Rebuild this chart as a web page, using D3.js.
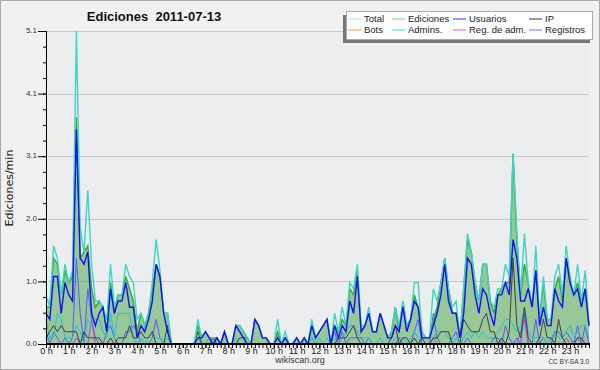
<!DOCTYPE html>
<html>
<head>
<meta charset="utf-8">
<script src="https://cdn.jsdelivr.net/npm/d3@7/dist/d3.min.js"></script>
<style>
  body { margin: 0; background: #f1f1f1; }
  svg { display: block; }
</style>
</head>
<body>
<div id="chart"></div>
<script>
// Edits per minute, one value per 10-minute slot (144 slots)
const total = [
  0.8, 0.6, 1.6, 1.4, 0.8, 1.3, 1.0, 1.2, 5.1, 1.9, 1.5, 2.5,
  1.3, 0.7, 0.7, 0.6, 0.4, 1.3, 0.6, 0.8, 0.8, 1.3, 1.1, 1.0,
  0.4, 0.5, 0.3, 0.5, 1.0, 1.7, 1.2, 0.5, 0.5, 0, 0, 0,
  0, 0, 0, 0, 0.4, 0.1, 0.2, 0.1, 0.1, 0.1, 0, 0.2,
  0, 0, 0.3, 0.3, 0.2, 0.1, 0, 0.4, 0.3, 0.1, 0.1, 0,
  0, 0.4, 0, 0.2, 0, 0, 0.1, 0, 0.1, 0, 0.4, 0.1,
  0.2, 0.3, 0.4, 0, 0.5, 0.2, 0.6, 0.3, 1.0, 0.9, 1.3, 0.3,
  0.3, 0.6, 0.2, 0.2, 0.5, 0.3, 0.1, 0.2, 0.6, 0.3, 0.7, 0.3,
  0.4, 1.0, 1.0, 0.2, 0.1, 0.1, 0.9, 0.7, 1.0, 1.4, 0.9, 0.6,
  0.7, 0.1, 0.9, 1.8, 1.5, 1.0, 0.7, 1.3, 1.3, 0.7, 0.6, 0.9,
  0.9, 1.3, 1.1, 3.1, 1.8, 0.8, 1.8, 1.0, 0.6, 1.6, 0.4, 1.1,
  0.4, 0.4, 1.1, 1.3, 0.8, 1.6, 1.1, 0.8, 1.3, 0.7, 1.2, 0.3
];
const ediciones = [
  0.6, 0.6, 1.4, 1.3, 0.8, 1.2, 1.0, 1.1, 3.7, 1.4, 1.5, 1.6,
  0.9, 0.6, 0.7, 0.6, 0.2, 1.0, 0.5, 0.8, 0.8, 1.1, 0.9, 0.7,
  0.2, 0.5, 0.3, 0.5, 0.9, 1.3, 1.1, 0.5, 0.5, 0, 0, 0,
  0, 0, 0, 0, 0.3, 0.1, 0.2, 0.1, 0.1, 0.1, 0, 0.2,
  0, 0, 0.3, 0.3, 0.2, 0.1, 0, 0.4, 0.3, 0.1, 0.1, 0,
  0, 0.2, 0, 0.1, 0, 0, 0.1, 0, 0.1, 0, 0.3, 0.1,
  0.2, 0.3, 0.4, 0, 0.3, 0.2, 0.4, 0.3, 0.9, 0.8, 1.2, 0.2,
  0.3, 0.5, 0.2, 0.2, 0.5, 0.3, 0.1, 0.2, 0.6, 0.2, 0.7, 0.3,
  0.4, 0.8, 0.6, 0.2, 0.1, 0.1, 0.4, 0.6, 1.0, 1.4, 0.9, 0.5,
  0.5, 0.1, 0.9, 1.7, 1.5, 1.0, 0.7, 1.3, 1.3, 0.7, 0.5, 0.8,
  0.9, 1.0, 1.0, 3.1, 1.7, 0.8, 1.3, 1.0, 0.6, 1.2, 0.4, 1.0,
  0.4, 0.4, 0.9, 1.1, 0.7, 1.4, 1.0, 0.8, 1.0, 0.7, 0.9, 0.3
];
const usuarios = [
  0.5, 0.4, 1.1, 1.1, 0.5, 1.0, 0.8, 0.7, 3.5, 1.4, 1.3, 1.5,
  0.5, 0.3, 0.5, 0.6, 0.2, 0.9, 0.5, 0.7, 0.7, 1.0, 0.6, 0.6,
  0.1, 0.3, 0.2, 0.4, 0.7, 1.3, 1.1, 0.5, 0.2, 0, 0, 0,
  0, 0, 0, 0, 0.1, 0.1, 0.2, 0.1, 0, 0.1, 0, 0.2,
  0, 0, 0.3, 0.2, 0.1, 0, 0, 0.4, 0.3, 0.1, 0.1, 0,
  0, 0.1, 0, 0.1, 0, 0, 0.1, 0, 0.1, 0, 0.3, 0.1,
  0.2, 0.3, 0.4, 0, 0.3, 0.1, 0.3, 0.2, 0.7, 0.5, 1.1, 0.2,
  0.3, 0.5, 0.2, 0.2, 0.5, 0.3, 0.1, 0.1, 0.3, 0.2, 0.6, 0.2,
  0.4, 0.7, 0.6, 0.1, 0.1, 0.1, 0.3, 0.5, 0.8, 1.3, 0.7, 0.5,
  0.5, 0.1, 0.5, 1.4, 1.3, 0.8, 0.5, 0.9, 0.8, 0.5, 0.3, 0.8,
  0.8, 1.0, 0.8, 1.7, 1.4, 0.7, 0.7, 0.9, 0.6, 1.2, 0.3, 0.6,
  0.3, 0.3, 0.9, 0.7, 0.6, 1.4, 1.0, 0.8, 0.9, 0.6, 0.9, 0.3
];
const ip = [
  0.1, 0.2, 0.3, 0.2, 0.3, 0.2, 0.2, 0.2, 0.2, 0, 0.2, 0.1,
  0.1, 0.1, 0.1, 0, 0, 0.1, 0, 0.1, 0.1, 0.1, 0.3, 0.1,
  0.1, 0.2, 0.1, 0.1, 0.2, 0, 0, 0, 0.3, 0, 0, 0,
  0, 0, 0, 0, 0.2, 0, 0, 0, 0.1, 0, 0, 0,
  0, 0, 0, 0.1, 0.1, 0.1, 0, 0, 0, 0, 0, 0,
  0, 0.1, 0, 0, 0, 0, 0, 0, 0, 0, 0, 0,
  0, 0, 0, 0, 0, 0.1, 0.1, 0.1, 0.2, 0.3, 0.1, 0,
  0, 0, 0, 0, 0, 0, 0, 0.1, 0.3, 0, 0.1, 0.1,
  0, 0.1, 0, 0.1, 0, 0, 0.1, 0.1, 0.2, 0.2, 0.2, 0,
  0, 0, 0.4, 0.3, 0.2, 0.2, 0.2, 0.4, 0.5, 0.2, 0.2, 0,
  0.1, 0, 0.2, 1.4, 0.3, 0.1, 0.6, 0.1, 0, 0, 0.1, 0.4,
  0.1, 0.1, 0, 0.4, 0.1, 0, 0, 0, 0.1, 0.1, 0, 0
];
const bots = [
  0, 0, 0, 0, 0, 0, 0, 0, 0, 0, 0, 0,
  0, 0, 0, 0, 0, 0, 0, 0, 0, 0, 0, 0,
  0, 0, 0, 0, 0, 0, 0, 0, 0, 0, 0, 0,
  0, 0, 0, 0, 0, 0, 0, 0, 0, 0, 0, 0,
  0, 0, 0, 0, 0, 0, 0, 0, 0, 0, 0, 0,
  0, 0, 0, 0, 0, 0, 0, 0, 0, 0, 0, 0,
  0, 0, 0, 0, 0, 0, 0, 0, 0, 0, 0, 0,
  0, 0, 0, 0, 0, 0, 0, 0, 0, 0, 0, 0,
  0, 0, 0, 0, 0, 0, 0, 0, 0, 0, 0, 0,
  0, 0, 0, 0, 0, 0, 0, 0, 0, 0, 0, 0,
  0, 0, 0, 0, 0, 0, 0, 0, 0, 0, 0, 0,
  0, 0, 0, 0, 0, 0, 0, 0, 0, 0, 0, 0
];
const admins = [
  0.4, 0.1, 0.1, 0.5, 0.4, 0.1, 0.1, 0.1, 0.3, 0.2, 0, 0.4,
  0.3, 0.4, 0.4, 0.2, 0.1, 0.5, 0.1, 0.5, 0.5, 0.5, 0.5, 0.1,
  0, 0.1, 0, 0.1, 0.2, 0.1, 0.1, 0, 0.1, 0, 0, 0,
  0, 0, 0, 0, 0.1, 0, 0, 0.1, 0, 0, 0, 0,
  0, 0, 0.1, 0, 0, 0.1, 0, 0, 0, 0, 0, 0,
  0, 0, 0, 0, 0, 0, 0, 0, 0, 0, 0.1, 0,
  0.1, 0, 0.1, 0, 0.1, 0, 0.1, 0.2, 0.3, 0.3, 0.2, 0.1,
  0.1, 0.1, 0, 0, 0.1, 0, 0, 0, 0.1, 0.1, 0.1, 0,
  0.1, 0.2, 0.1, 0, 0, 0, 0.1, 0.2, 0.2, 0.2, 0.1, 0,
  0.1, 0, 0.1, 0.2, 0.1, 0.2, 0.1, 0.2, 0.1, 0.1, 0.1, 0.2,
  0.3, 0.4, 0.4, 0.3, 0.2, 0.3, 0.6, 0.2, 0.1, 0.1, 0.1, 0.1,
  0, 0.1, 0.2, 0.1, 0.1, 0.2, 0.3, 0.1, 0.2, 0.3, 0.3, 0.1
];
const regAdm = [
  0, 0, 0, 0, 0, 0, 0, 0, 0.1, 0, 0, 0,
  0.4, 0, 0, 0, 0, 0, 0, 0, 0, 0, 0, 0,
  0, 0, 0, 0, 0, 0, 0, 0, 0, 0, 0, 0,
  0, 0, 0, 0, 0, 0, 0, 0, 0, 0, 0, 0,
  0, 0, 0, 0, 0, 0, 0, 0, 0, 0, 0, 0,
  0, 0, 0, 0, 0, 0, 0, 0, 0, 0, 0, 0,
  0, 0, 0, 0, 0, 0, 0, 0, 0, 0, 0, 0,
  0, 0, 0, 0, 0, 0, 0, 0, 0, 0, 0, 0,
  0, 0, 0, 0, 0, 0, 0.1, 0, 0, 0, 0, 0,
  0, 0, 0, 0, 0, 0, 0, 0, 0, 0, 0, 0,
  0, 0, 0, 0, 0, 0.2, 0.4, 0, 0, 0, 0, 0,
  0, 0, 0, 0, 0, 0.1, 0, 0, 0.1, 0, 0, 0
];
const registros = [
  0.2, 0, 0.2, 0.1, 0, 0.1, 0, 0.1, 1.4, 0.5, 0, 0.9,
  0.4, 0.1, 0, 0, 0.2, 0.3, 0.1, 0, 0, 0.2, 0.2, 0.3,
  0.2, 0, 0, 0, 0.1, 0.4, 0.1, 0, 0, 0, 0, 0,
  0, 0, 0, 0, 0.1, 0, 0, 0, 0, 0, 0, 0,
  0, 0, 0, 0, 0, 0, 0, 0, 0, 0, 0, 0,
  0, 0.2, 0, 0.1, 0, 0, 0, 0, 0, 0, 0.1, 0,
  0, 0, 0, 0, 0.2, 0, 0.2, 0, 0.1, 0.1, 0.1, 0.1,
  0, 0.1, 0, 0, 0, 0, 0, 0, 0, 0.1, 0, 0,
  0, 0.2, 0.4, 0, 0, 0, 0.5, 0.1, 0, 0, 0, 0.1,
  0.2, 0, 0, 0.1, 0, 0, 0, 0, 0, 0, 0.1, 0.1,
  0, 0.3, 0.1, 0, 0.1, 0, 0.5, 0, 0, 0.4, 0, 0.1,
  0, 0, 0.2, 0.2, 0.1, 0.2, 0.1, 0, 0.3, 0, 0.3, 0
];

const hourLabels = ["0 h", "1 h", "2 h", "3 h", "4 h", "5 h", "6 h", "7 h", "8 h", "9 h", "10 h", "11 h",
  "12 h", "13 h", "14 h", "15 h", "16 h", "17 h", "18 h", "19 h", "20 h", "21 h", "22 h", "23 h"];
const yMax = 5.1;
const yMajor = [0, 1.02, 2.04, 3.06, 4.08, 5.1];

const width = 600, height = 370;
const margin = { left: 46, right: 11, top: 31, bottom: 26 };

const svg = d3.select("#chart").append("svg")
  .attr("width", width)
  .attr("height", height);

// background and frame
svg.append("rect")
  .attr("x", 0.5).attr("y", 0.5)
  .attr("width", width - 1).attr("height", height - 1)
  .attr("fill", "#f1f1f1")
  .attr("stroke", "#a9a9a9");

const x = d3.scaleLinear().domain([0, 1430]).range([margin.left, 589]);
const y = d3.scaleLinear().domain([0, yMax]).range([height - margin.bottom, margin.top]);

svg.append("rect")
  .attr("x", margin.left).attr("y", margin.top)
  .attr("width", width - margin.right - margin.left)
  .attr("height", height - margin.bottom - margin.top)
  .attr("fill", "#ebedef");

// grid
svg.append("g")
  .selectAll("line")
  .data(yMajor.slice(1))
  .enter().append("line")
  .attr("x1", margin.left).attr("x2", width - margin.right)
  .attr("y1", d => Math.round(y(d)) + 0.5).attr("y2", d => Math.round(y(d)) + 0.5)
  .attr("stroke", "#c8c8c8");

const slotX = (d, i) => x(i * 10);

// Ediciones filled area
svg.append("path")
  .datum(ediciones)
  .attr("fill", "#45a341")
  .attr("fill-opacity", 0.5)
  .attr("d", d3.area().x(slotX).y0(y(0)).y1(d => y(d)));

const series = [
  { name: "Registros", values: registros, color: "#5a5aff", w: 1 },
  { name: "Reg. de adm.", values: regAdm, color: "#c43ee6", w: 1 },
  { name: "Admins.", values: admins, color: "#22c0d8", w: 1 },
  { name: "Bots", values: bots, color: "#f39c2c", w: 1 },
  { name: "IP", values: ip, color: "#404040", w: 1 },
  { name: "Ediciones", values: ediciones, color: "#3aac3a", w: 1.5 },
  { name: "Total", values: total, color: "#3fd4c6", w: 1.4 },
  { name: "Usuarios", values: usuarios, color: "#1212ee", w: 1.4 }
];

const line = d3.line().x(slotX).y(d => y(d));

svg.append("g")
  .selectAll("path")
  .data(series)
  .enter().append("path")
  .attr("fill", "none")
  .attr("stroke", d => d.color)
  .attr("stroke-width", d => d.w)
  .attr("stroke-linejoin", "miter")
  .attr("d", d => line(d.values));

// y axis
const yAxis = svg.append("g")
  .attr("transform", `translate(${margin.left},0)`)
  .call(d3.axisLeft(y).tickValues(yMajor).tickSize(8).tickPadding(1).tickFormat(d3.format(".1f")));
yAxis.select(".domain").remove();
yAxis.selectAll("text")
  .attr("font-family", "Liberation Sans, Arial, sans-serif")
  .attr("font-size", 8).attr("fill", "#333").attr("dy", "0.2em");

const yMinor = svg.append("g")
  .attr("transform", `translate(${margin.left},0)`)
  .call(d3.axisLeft(y).tickValues(d3.range(0, 21).map(k => yMax * k / 20)).tickSize(3).tickFormat(""));
yMinor.select(".domain").remove();

svg.append("line")
  .attr("x1", margin.left + 0.5).attr("x2", margin.left + 0.5)
  .attr("y1", margin.top).attr("y2", y(0))
  .attr("stroke", "#000");

// x axis
const xMinor = svg.append("g")
  .attr("transform", `translate(0,${y(0)})`)
  .call(d3.axisBottom(x).tickValues(d3.range(0, 144).map(i => i * 10)).tickSize(4).tickFormat(""));
xMinor.select(".domain").remove();

const xAxis = svg.append("g")
  .attr("transform", `translate(0,${y(0)})`)
  .call(d3.axisBottom(x).tickValues(hourLabels.map((h, i) => i * 60)).tickSize(4).tickPadding(0)
    .tickFormat((d, i) => hourLabels[i]));
xAxis.select(".domain").remove();
xAxis.selectAll("text")
  .attr("font-family", "Liberation Sans, Arial, sans-serif")
  .attr("font-size", 9).attr("fill", "#222");

svg.append("line")
  .attr("x1", margin.left).attr("x2", width - margin.right + 1)
  .attr("y1", y(0)).attr("y2", y(0))
  .attr("stroke", "#000").attr("stroke-width", 2);

// title and labels
svg.append("text")
  .attr("x", 154).attr("y", 21)
  .attr("text-anchor", "middle")
  .attr("font-family", "Liberation Sans, Arial, sans-serif")
  .attr("font-weight", "bold").attr("font-size", 13)
  .attr("fill", "#111")
  .text("Ediciones  2011-07-13")
  .attr("xml:space", "preserve")
  .style("white-space", "pre");

svg.append("text")
  .attr("transform", "translate(13,188) rotate(-90)")
  .attr("text-anchor", "middle")
  .attr("font-family", "DejaVu Sans, sans-serif")
  .attr("font-size", 11).attr("fill", "#111")
  .text("Ediciones/min");

svg.append("text")
  .attr("x", 300).attr("y", 363)
  .attr("text-anchor", "middle")
  .attr("font-family", "Liberation Sans, Arial, sans-serif")
  .attr("font-size", 9).attr("fill", "#333")
  .text("wikiscan.org");

svg.append("text")
  .attr("x", 589).attr("y", 364)
  .attr("text-anchor", "end")
  .attr("font-family", "Liberation Sans, Arial, sans-serif")
  .attr("font-size", 6.5).attr("fill", "#333")
  .text("CC BY-SA 3.0");

// legend
const legendOrder = ["Total", "Ediciones", "Usuarios", "IP", "Bots", "Admins.", "Reg. de adm.", "Registros"];
const legendColors = {
  "Total": "#a8e6e0", "Ediciones": "#7fcf84", "Usuarios": "#3a3ae6", "IP": "#333333",
  "Bots": "#f4a340", "Admins.": "#55c8dc", "Reg. de adm.": "#d060e8", "Registros": "#7878f0"
};
const colX = [348, 392, 453, 529];
const rowY = [18.5, 29.5];

svg.append("rect")
  .attr("x", 343).attr("y", 15).attr("width", 247).attr("height", 28)
  .attr("fill", "#777");
svg.append("rect")
  .attr("x", 346.5).attr("y", 11.5).attr("width", 246).attr("height", 28)
  .attr("fill", "#fff").attr("stroke", "#aaa");

const leg = svg.append("g")
  .selectAll("g")
  .data(legendOrder)
  .enter().append("g")
  .attr("transform", (d, i) => `translate(${colX[i % 4]},${rowY[Math.floor(i / 4)]})`);
leg.append("line")
  .attr("x1", 0).attr("x2", 13).attr("y1", 0.5).attr("y2", 0.5)
  .attr("stroke", d => legendColors[d]);
leg.append("text")
  .attr("x", 16).attr("y", 3.5)
  .attr("font-family", "Liberation Sans, Arial, sans-serif")
  .attr("font-size", 9.5).attr("fill", "#222")
  .text(d => d);
</script>
</body>
</html>
